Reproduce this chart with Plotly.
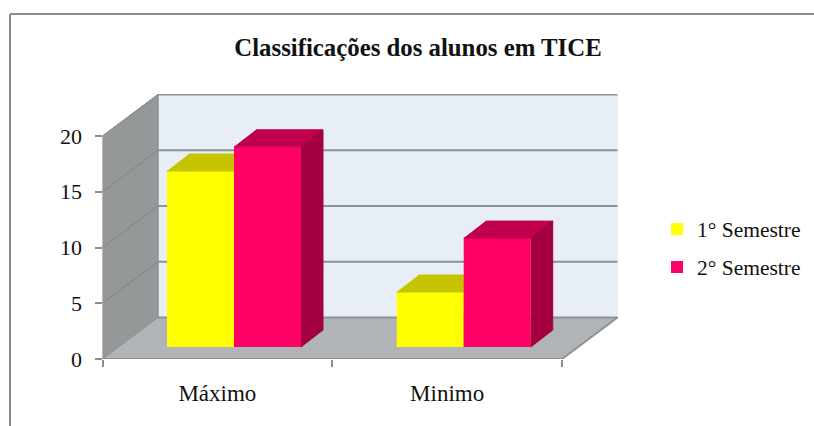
import plotly.graph_objects as go

categories = ["Máximo", "Minimo"]
semestre_1 = [16, 5]
semestre_2 = [18.2, 9.9]
series_names = ["1° Semestre", "2° Semestre"]
y_ticks = [0, 5, 10, 15, 20]
title_text = "Classificações dos alunos em TICE"

W, H = 814, 426
PX_L, PX_R, PX_T, PX_B = 102.5, 618.5, 94, 359
PX_PER_CAT = 229.75
PX_PER_UNIT = 11.15
BAR_PX_PER_UNIT = 11.0
BAR_FLOOR_PX = 347

x_lo, x_hi = -0.5, 1.5
x_max = x_lo + (PX_R - PX_L) / PX_PER_CAT
y_max = (PX_B - PX_T) / PX_PER_UNIT
wall_dx = (158 - PX_L) / PX_PER_CAT
wall_dy = (359 - 317.5) / PX_PER_UNIT
bar_dx = 22 / PX_PER_CAT
bar_dy = 17 / BAR_PX_PER_UNIT
bar_w = 67 / PX_PER_CAT
bar_shift = 16.6 / PX_PER_CAT
bar_range = [-(PX_B - BAR_FLOOR_PX) / BAR_PX_PER_UNIT, (BAR_FLOOR_PX - PX_T) / BAR_PX_PER_UNIT]

FONT = "Liberation Serif"
GRID = "#8f9292"
EDGE = "#8c8c8c"
YELLOW, YELLOW_TOP, YELLOW_SIDE = "#FFFF00", "#C6C400", "#A8A600"
PINK, PINK_TOP, PINK_SIDE = "#FF0066", "#C0004F", "#A3003F"

fig = go.Figure()


def poly(xs, ys, fill, line=None, width=1, yaxis="y"):
    fig.add_trace(go.Scatter(
        x=xs, y=ys, mode="lines", fill="toself", fillcolor=fill,
        line=dict(color=line or fill, width=width), yaxis=yaxis,
        showlegend=False, hoverinfo="skip", cliponaxis=False))


def path(xs, ys, color, width):
    fig.add_trace(go.Scatter(
        x=xs, y=ys, mode="lines", line=dict(color=color, width=width),
        showlegend=False, hoverinfo="skip", cliponaxis=False))


# walls and floor
bx0, bx1 = x_lo + wall_dx, x_hi + wall_dx
poly([bx0, bx1, bx1, bx0], [wall_dy, wall_dy, 20 + wall_dy, 20 + wall_dy], "#E8EEF6")
poly([x_lo, bx0, bx0, x_lo], [0, wall_dy, 20 + wall_dy, 20], "#949898")
poly([x_lo, x_hi, bx1, bx0], [0, 0, wall_dy, wall_dy], "#B0B4B7")

# gridlines
for v in y_ticks:
    if v > 0:
        path([x_lo, bx0], [v, v + wall_dy], "#808484", 1)
    path([bx0, bx1], [v + wall_dy, v + wall_dy], GRID, 2)
path([bx0, bx0], [wall_dy, 20 + wall_dy], "#8a8e8e", 1)
path([x_lo, x_lo], [0, 20], "#8a8e8e", 1)
path([x_hi, bx1], [0, wall_dy], GRID, 2)
path([x_lo, bx0], [0, wall_dy], GRID, 1)
path([x_lo, x_hi], [0, 0], EDGE, 2)


def bar_series(values, name, front, top, side, offset, yaxis):
    xs = [i + bar_shift for i in range(len(values))]
    fig.add_trace(go.Bar(
        x=xs, y=values, name=name, width=bar_w, offset=offset,
        marker=dict(color=front, line=dict(width=0)), yaxis=yaxis,
        legendgroup=name, hoverinfo="skip"))
    for x, v in zip(xs, values):
        x0, x1 = x + offset, x + offset + bar_w
        poly([x0, x1, x1 + bar_dx, x0 + bar_dx], [v, v, v + bar_dy, v + bar_dy], top, yaxis=yaxis)
        poly([x1, x1 + bar_dx, x1 + bar_dx, x1], [0, bar_dy, v + bar_dy, v], side, yaxis=yaxis)


bar_series(semestre_1, series_names[0], YELLOW, YELLOW_TOP, YELLOW_SIDE, -bar_w, "y2")
bar_series(semestre_2, series_names[1], PINK, PINK_TOP, PINK_SIDE, 0, "y3")

fig.update_layout(
    width=W, height=H, autosize=False,
    margin=dict(l=0, r=0, t=0, b=0, autoexpand=False),
    paper_bgcolor="white", plot_bgcolor="rgba(0,0,0,0)",
    font=dict(family=FONT, color="#111111"),
    barmode="overlay",
    title=dict(text=title_text, font=dict(family=FONT, size=24.8, color="#111111", weight="bold"),
               x=418 / W, xanchor="center", y=1 - 47 / H, yanchor="middle"),
    xaxis=dict(
        domain=[PX_L / W, PX_R / W], range=[x_lo, x_max], showgrid=False, zeroline=False,
        showline=False, tickmode="array", tickvals=[0, 1], ticktext=categories, ticks="",
        ticklabelstandoff=18, tickfont=dict(size=23, family=FONT),
        minor=dict(tickmode="array", tickvals=[x_lo, 0.5, x_hi], ticks="outside", ticklen=7,
                   tickwidth=2, tickcolor=EDGE, showgrid=False)),
    yaxis=dict(
        domain=[1 - PX_B / H, 1 - PX_T / H], range=[0, y_max], showgrid=False, zeroline=False,
        showline=False, tickmode="array", tickvals=y_ticks, ticks="outside", ticklen=7,
        tickwidth=2, tickcolor=EDGE, ticklabelstandoff=8, tickfont=dict(size=22, family=FONT)),
    yaxis2=dict(overlaying="y", anchor="x", range=bar_range, visible=False),
    yaxis3=dict(overlaying="y", anchor="x", range=bar_range, visible=False),
    legend=dict(x=657 / W, xanchor="left", y=1 - 248 / H, yanchor="middle",
                font=dict(family=FONT, size=21.5, color="#111111"), tracegroupgap=7,
                bgcolor="rgba(0,0,0,0)", traceorder="grouped"),
    shapes=[
        dict(type="line", xref="paper", yref="paper", x0=10 / W, x1=1, y0=1 - 14 / H, y1=1 - 14 / H,
             line=dict(color=EDGE, width=2)),
        dict(type="line", xref="paper", yref="paper", x0=10 / W, x1=10 / W, y0=0, y1=1 - 14 / H,
             line=dict(color=EDGE, width=2)),
    ],
)

fig.write_html("out.html", config=dict(displayModeBar=False),
               post_script="document.body.style.margin='0';document.documentElement.style.overflow='hidden';")
